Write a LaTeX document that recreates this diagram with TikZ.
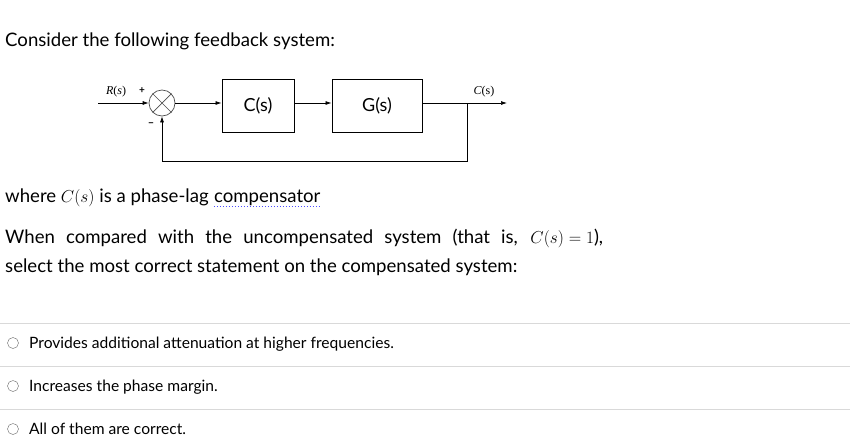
\documentclass[tikz,border=0pt]{standalone}
\usepackage{fontspec}
\setmainfont{Lato}
\newfontfamily\serifdia{Liberation Serif}
\usetikzlibrary{arrows.meta}
\begin{document}
\begin{tikzpicture}[x=1pt,y=-1pt,
  txt/.style={anchor=base west,inner sep=0pt,font=\fontsize{18.6}{22}\selectfont},
  opt/.style={anchor=base west,inner sep=0pt,font=\fontsize{15.6}{18}\selectfont},
  blk/.style={draw,line width=1pt,minimum height=53pt,font=\fontsize{18}{20}\selectfont},
  sig/.style={-{Latex[length=6pt,width=4pt]},line width=0.7pt},
  sep/.style={draw=black!15,line width=0.6pt},
  lab/.style={font=\fontsize{12}{13}\selectfont\serifdia},
  radio/.style={circle,draw=black!60,minimum size=11pt,inner sep=0pt}]
\useasboundingbox (0,0) rectangle (850,445);
\node[txt] (t1) at (5,46) {Consider the following feedback system:};
% diagram
\coordinate (in) at (98,103);
\node[circle,draw=black!70,line width=0.7pt,minimum size=26pt,inner sep=0pt] (sum) at (162,103) {};
\draw[draw=black!70,line width=0.7pt] (sum.north west) -- (sum.south east) (sum.north east) -- (sum.south west);
\node[blk,minimum width=72pt] (c) at (258,105.5) {C(s)};
\node[blk,minimum width=90pt] (g) at (377,105.5) {G(s)};
\coordinate (br) at (467,103);
\coordinate (out) at (507,103);
\coordinate (fb1) at (467,161);
\coordinate (fb2) at (162,161);
\draw[sig] (in) -- (sum);
\draw[sig] (sum) -- (c.west|-sum);
\draw[sig] (c.east|-sum) -- (g.west|-sum);
\draw[sig] (g.east|-sum) -- (out);
\draw[sig] (br) -- (fb1) -- (fb2) -- (sum.south);
\node[lab] (rl) at (116,92) {\textit{R}(\textit{s})};
\node[lab] (cl) at (484,92) {\textit{C}(s)};
\node[font=\fontsize{10}{12}\selectfont\bfseries] (pl) at (142,91) {+};
\node[font=\fontsize{11}{12}\selectfont\bfseries] (ml) at (151,125) {--};
% text
\node[txt] (t2) at (5,202) {where $C(s)$ is a phase-lag};
\node[txt] (cw) at ([xshift=5pt]t2.base east) {compensator};
\draw[blue!70,line width=1pt,dotted] ([yshift=-4pt]cw.base west) -- ([yshift=-4pt]cw.base east);
\node[txt] (t3) at (5,243) {\makebox[598pt][s]{When compared with the uncompensated system (that is, \mbox{$C(s)=1$),}}};
\node[txt] (t4) at (5,272) {select the most correct statement on the compensated system:};
\draw[sep] (0,323) -- (850,323);
\draw[sep] (0,366) -- (850,366);
\draw[sep] (0,409) -- (850,409);
\node[radio] (r1) at (13,343) {};
\node[radio] (r2) at (13,386) {};
\node[radio] (r3) at (13,429) {};
\node[opt] (o1) at (29,348) {Provides additional attenuation at higher frequencies.};
\node[opt] (o2) at (29,391) {Increases the phase margin.};
\node[opt] (o3) at (29,434) {All of them are correct.};
\end{tikzpicture}
\end{document}
